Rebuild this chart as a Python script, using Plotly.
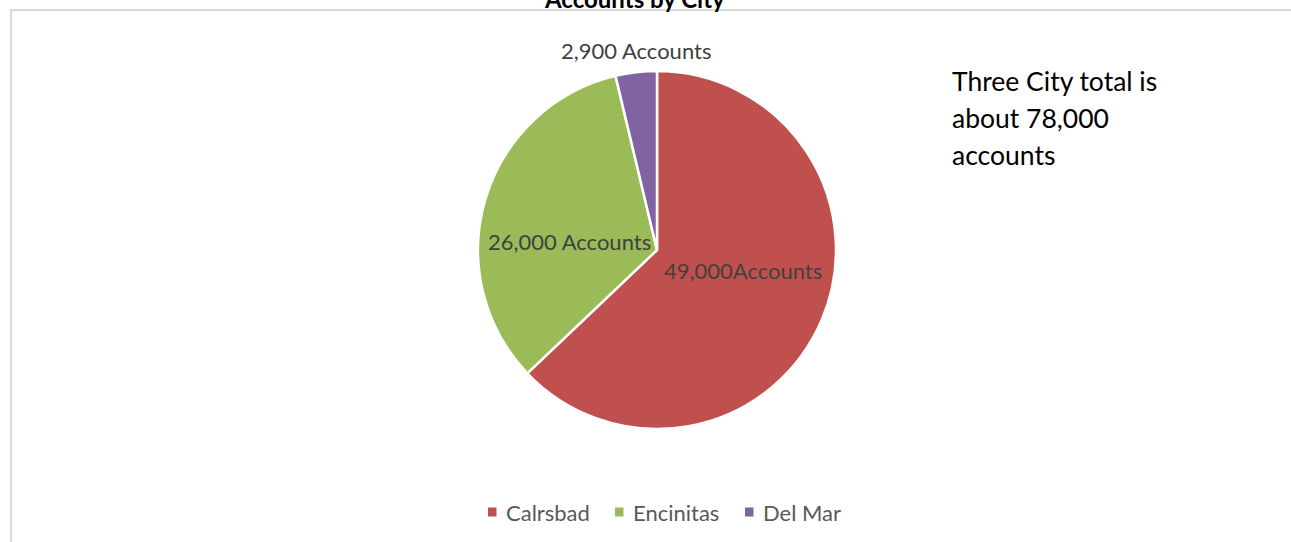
import plotly.graph_objects as go

W, H = 1291, 542

cities = ["Calrsbad", "Encinitas", "Del Mar"]
accounts = [49000, 26000, 2900]
slice_labels = ["49,000Accounts", "26,000 Accounts", "2,900 Accounts"]
colors = ["#C0504D", "#9BBB59", "#8064A2"]
title_text = "Accounts by City"
note_lines = ["Three City total is", "about 78,000", "accounts"]

FONT = "Lato"

def px(x):
    return x / W

def py(y):
    return 1 - y / H

fig = go.Figure()
fig.add_trace(go.Pie(
    labels=cities,
    values=accounts,
    sort=False,
    direction="clockwise",
    rotation=0,
    marker=dict(colors=colors, line=dict(color="white", width=2.5)),
    textinfo="none",
    hoverinfo="label+value",
    domain=dict(x=[px(478), px(836)], y=[py(429), py(71)]),
    showlegend=False,
))

annotations = []

# slice labels (positions in pixels)
label_pos = [(743, 270), (569, 242), (636, 51)]
for txt, (x, y) in zip(slice_labels, label_pos):
    annotations.append(dict(
        text=txt, x=px(x), y=py(y), xref="paper", yref="paper",
        showarrow=False, xanchor="center", yanchor="middle",
        font=dict(family=FONT, size=22, color="#404040"),
    ))

# title (cut off at the top, as in the reference)
annotations.append(dict(
    text="<b>" + title_text + "</b>", x=px(634), y=py(-2), xref="paper", yref="paper",
    showarrow=False, xanchor="center", yanchor="middle",
    font=dict(family=FONT, size=24, color="#000000"),
))

# note text
for i, line in enumerate(note_lines):
    annotations.append(dict(
        text=line, x=px(950), y=py(81 + 37 * i), xref="paper", yref="paper",
        showarrow=False, xanchor="left", yanchor="middle", align="left",
        font=dict(family=FONT, size=26.5, color="#000000"),
    ))

shapes = [
    dict(type="line", xref="paper", yref="paper", x0=px(10), x1=1.0, y0=py(10), y1=py(10),
         line=dict(color="#D9D9D9", width=2)),
    dict(type="line", xref="paper", yref="paper", x0=px(11), x1=px(11), y0=py(10), y1=0,
         line=dict(color="#D9D9D9", width=2)),
]

# legend (manual, to match the reference spacing)
legend_sq_x = [488, 615, 745]
for name, col, sx in zip(cities, colors, legend_sq_x):
    shapes.append(dict(
        type="rect", xref="paper", yref="paper",
        x0=px(sx), x1=px(sx + 8.5), y0=py(516.5), y1=py(507.5),
        fillcolor=col, line=dict(width=0),
    ))
    annotations.append(dict(
        text=name, x=px(sx + 16), y=py(512), xref="paper", yref="paper",
        showarrow=False, xanchor="left", yanchor="middle",
        font=dict(family=FONT, size=22, color="#595959"),
    ))

fig.update_layout(
    width=W, height=H,
    margin=dict(l=0, r=0, t=0, b=0),
    paper_bgcolor="white",
    plot_bgcolor="white",
    showlegend=False,
    annotations=annotations,
    shapes=shapes,
)

fig.write_html("out.html")
